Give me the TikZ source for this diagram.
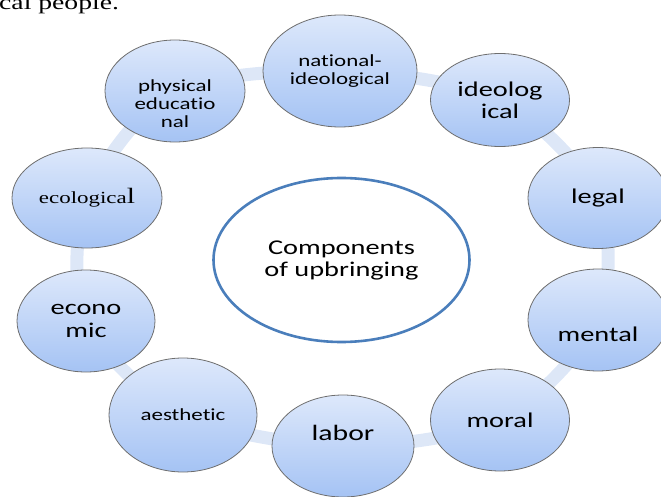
\documentclass[tikz,border=0pt]{standalone}
\usepackage{fontspec}
\usetikzlibrary{shapes.geometric,backgrounds}
\newfontfamily\smartfont[FakeStretch=1.35,Ligatures={NoCommon,NoContextual}]{Carlito}
\newfontfamily\docfont[FakeStretch=1.35]{Liberation Serif}
\definecolor{ringblue}{HTML}{DDE7F7}
\definecolor{toptint}{HTML}{DDE8FB}
\definecolor{bottint}{HTML}{A5C3F4}
\definecolor{rimgray}{HTML}{6E6E6E}
\definecolor{hubblue}{HTML}{4A7EBB}
\newcommand{\lowertxt}[2]{\raisebox{#1}[\height][\depth]{\begin{tabular}{@{}c@{}}#2\end{tabular}}}

\begin{document}
\begin{tikzpicture}[x=1pt,y=-1pt,
	bubble/.style={ellipse,draw=rimgray,line width=0.8pt,top color=toptint,bottom color=bottint,inner sep=0pt,align=center},
	hub/.style={ellipse,draw=hubblue,line width=2.6pt,fill=white,inner sep=0pt,align=center,minimum width=256pt,minimum height=164pt},
	ring/.style={line width=13pt,color=ringblue}]

		\useasboundingbox (0,0) rectangle (661,497);

		% the cut-off text line above the figure
		\node[anchor=base west,inner sep=0pt,font=\docfont\fontsize{20.5}{22}\selectfont] (prevline) at (-1,10) {cal people.};

		% the centre
		\node[hub,font=\smartfont\fontsize{21}{22}\selectfont] (hub) at (341.5,260) {Components\\of upbringing};

		% the ten components, clockwise from the upper left
		\node[bubble,minimum width=140pt,minimum height=102pt,font=\smartfont\fontsize{17}{18}\selectfont] (physed) at (175,91) {\lowertxt{-15pt}{physical\\educat\kern0pt io\\nal}};
		\node[bubble,minimum width=154pt,minimum height=112pt,font=\smartfont\fontsize{17}{18}\selectfont] (natideo) at (340,71) {national-\\ideological};
		\node[bubble,minimum width=139pt,minimum height=93pt,font=\smartfont\fontsize{21}{22}\selectfont] (ideol) at (500,100) {ideolog\\ical};
		\node[bubble,minimum width=140pt,minimum height=101pt,font=\smartfont\fontsize{21}{22}\selectfont] (legal) at (598,198) {legal};
		\node[bubble,minimum width=140pt,minimum height=102pt,font=\smartfont\fontsize{21}{22}\selectfont] (mental) at (598,320) {\lowertxt{-17pt}{mental}};
		\node[bubble,minimum width=139pt,minimum height=102pt,font=\smartfont\fontsize{21}{22}\selectfont] (moral) at (500,420) {moral};
		\node[bubble,minimum width=142pt,minimum height=102pt,font=\smartfont\fontsize{22}{23}\selectfont] (labor) at (343,446) {\lowertxt{10pt}{labor}};
		\node[bubble,minimum width=148pt,minimum height=114pt,font=\smartfont\fontsize{17}{18}\selectfont] (aesth) at (183,415) {aesthet\kern0pt ic};
		\node[bubble,minimum width=138pt,minimum height=102pt,font=\smartfont\fontsize{21}{23}\selectfont] (econ) at (86,321) {econo\\mic};
		\node[bubble,minimum width=150pt,minimum height=100pt,font=\docfont\fontsize{17}{18}\selectfont] (ecol) at (87,198) {ecologica{\fontsize{22}{22}\selectfont l}};

		% the ring behind them
		\begin{pgfonlayer}{background}
			\draw[ring] plot[smooth cycle] coordinates {(physed.center) (natideo.center) (ideol.center) (legal.center) (mental.center) (moral.center) (labor.center) (aesth.center) (econ.center) (ecol.center)};
		\end{pgfonlayer}

\end{tikzpicture}
\end{document}
